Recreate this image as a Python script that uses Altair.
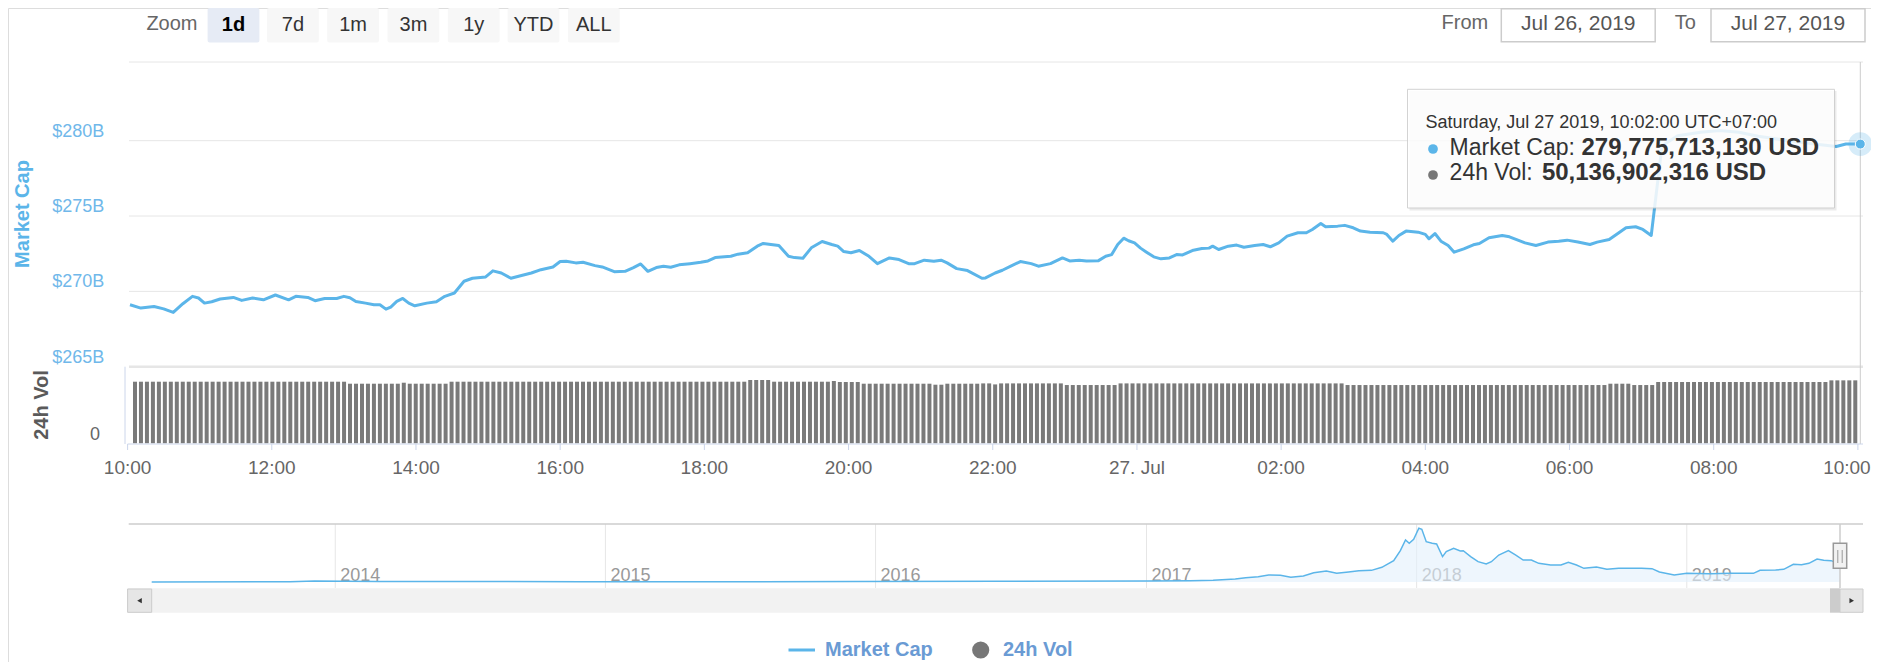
import altair as alt
import pandas as pd

# ------------------------------------------------------------------ data
# Market cap line (minutes after 2019-07-26 10:00, value in billions USD)
MCAP_MIN = [
    2, 11, 22, 30, 38, 46, 54, 59, 64, 70, 77, 88, 95, 104, 113, 123, 134, 140, 150, 156,
    164, 174, 180, 185, 190, 198, 205, 210, 215, 219, 224, 229, 234, 239, 249, 257, 264, 272, 280, 287,
    298, 304, 311, 319, 327, 336, 344, 354, 360, 365, 373, 379, 389, 395, 405, 414, 421, 427, 433, 440,
    446, 452, 459, 468,
    477, 483, 489, 502, 508, 516, 524, 529, 537, 542, 550, 555, 562, 569, 578, 586, 591, 596, 602, 609,
    617, 624, 634, 642, 650, 655, 663, 671, 677, 682, 690, 699, 711, 714, 722, 728, 735, 743, 752, 758,
    768, 778, 784, 792, 798, 808, 814, 819, 824, 829, 833, 838, 843, 848, 854, 860, 867, 873, 878, 887,
    894, 900, 903, 908, 916, 923, 929, 938, 945, 951, 958,
    965, 974, 981, 986, 993, 997, 1007, 1013, 1020, 1026, 1034, 1045, 1048, 1053, 1058, 1064, 1074, 1080,
    1083, 1088, 1093, 1099, 1104, 1112, 1120, 1125, 1133, 1144, 1150, 1163, 1172, 1182, 1191, 1198, 1207,
    1217, 1223, 1233, 1239, 1247, 1255, 1261, 1268, 1277, 1290, 1309, 1325, 1341, 1357, 1373, 1389, 1404,
    1422, 1430, 1442,
]
MCAP_B = [
    269.11, 268.89, 269.00, 268.84, 268.60, 269.18, 269.67, 269.56, 269.22, 269.31, 269.49, 269.60, 269.40,
    269.56, 269.44, 269.76, 269.44, 269.67, 269.60, 269.38, 269.53, 269.53, 269.67, 269.58, 269.33, 269.22,
    269.11, 269.11, 268.82, 268.96, 269.33, 269.53, 269.22, 269.04, 269.22, 269.31, 269.67, 269.89, 270.67,
    270.87, 270.96, 271.36, 271.22, 270.87, 271.04, 271.22, 271.44, 271.62, 271.98, 272.00, 271.89, 271.93,
    271.71, 271.62, 271.31, 271.33, 271.58, 271.82, 271.33, 271.58, 271.67, 271.60, 271.76, 271.84,
    271.93, 272.02, 272.24, 272.33, 272.47, 272.56, 273.00, 273.18, 273.09, 273.04, 272.33, 272.24, 272.20,
    272.89, 273.31, 273.11, 273.00, 272.64, 272.56, 272.71, 272.33, 271.84, 272.22, 272.11, 271.84, 271.84,
    272.07, 272.00, 272.07, 271.89, 271.51, 271.38, 270.87, 270.89, 271.22, 271.40, 271.67, 271.98, 271.84,
    271.67, 271.84, 272.22, 272.02, 272.07, 272.02, 272.04, 272.33, 272.44, 273.11, 273.53, 273.36, 273.22,
    272.87, 272.60, 272.29, 272.16, 272.22, 272.44, 272.42, 272.73, 272.84, 272.87, 273.00, 272.78, 273.00,
    273.07, 272.93, 273.04, 273.11, 272.96, 273.22,
    273.67, 273.89, 273.89, 274.11, 274.51, 274.29, 274.33, 274.38, 274.22, 274.00, 273.93, 273.89, 273.78,
    273.33, 273.71, 274.00, 273.93, 273.78, 273.49, 273.84, 273.33, 273.04, 272.60, 272.82, 273.09, 273.18,
    273.56, 273.71, 273.62, 273.22, 273.04, 273.27, 273.33, 273.40, 273.27, 273.11, 273.27, 273.44, 273.78,
    274.22, 274.29, 274.11, 273.71, 279.67, 280.33, 280.56, 280.67, 280.56, 280.29, 280.11, 279.93, 279.78,
    279.62, 279.78, 279.776,
]

# 24h volume bars, one per 5 minutes from 2019-07-26 10:02 (billions USD)
VOL_B = [
    49.05, 49.05, 49.05, 49.05, 49.05, 49.05, 49.05, 49.05, 49.05, 49.05, 49.05, 49.05,
    49.05, 49.05, 49.05, 49.05, 49.05, 49.05, 49.05, 49.05, 49.05, 49.05, 49.05, 49.05,
    49.05, 49.05, 49.05, 49.05, 49.05, 49.05, 49.05, 49.05, 49.05, 49.05, 49.05, 49.05,
    47.46, 47.46, 47.46, 47.46, 47.46, 47.46, 47.46, 47.46, 47.46, 48.25, 47.46, 47.46,
    47.46, 47.46, 47.46, 47.46, 47.46, 49.05, 49.05, 49.05, 49.05, 49.05, 49.05, 49.05,
    49.05, 49.05, 49.05, 49.05, 49.05, 49.05, 49.05, 49.05, 49.05, 49.05, 49.05, 49.05,
    49.05, 49.05, 49.05, 49.05, 49.05, 49.05, 49.05, 49.05, 49.05, 49.05, 49.05, 49.05,
    49.05, 49.05, 49.05, 49.05, 49.05, 49.05, 49.05, 49.05, 49.05, 49.05, 49.05, 49.05,
    49.05, 49.05, 49.05, 49.05, 49.05, 49.05, 49.05, 50.40, 50.40, 50.40, 50.40, 49.05,
    49.05, 49.05, 49.05, 49.05, 49.05, 49.05, 49.05, 49.05, 49.05, 49.60, 48.80, 48.80,
    48.80, 48.80, 47.46, 47.46, 47.46, 47.46, 47.46, 47.46, 47.46, 47.46, 47.46, 47.46,
    47.46, 47.46, 46.66, 46.66, 47.46, 47.46, 47.46, 47.46, 47.46, 47.46, 47.70, 47.70,
    46.90, 47.70, 47.70, 47.70, 47.70, 47.70, 47.70, 47.70, 47.70, 47.70, 47.70, 47.70,
    46.40, 46.40, 46.40, 46.40, 46.40, 46.40, 46.40, 46.40, 46.40, 47.70, 47.70, 47.70,
    47.70, 47.70, 47.70, 47.70, 47.70, 47.70, 47.70, 47.70, 47.70, 47.70, 47.70, 47.70,
    47.70, 47.70, 47.70, 47.70, 47.70, 47.70, 47.70, 47.70, 47.70, 47.70, 47.70, 47.70,
    47.70, 47.70, 47.70, 47.70, 47.70, 47.70, 47.70, 47.70, 47.70, 47.70, 47.70, 46.40,
    46.40, 46.40, 46.40, 46.40, 46.40, 46.40, 46.40, 46.40, 46.40, 46.40, 46.40, 46.40,
    46.40, 46.40, 46.40, 46.40, 46.40, 46.40, 46.40, 46.40, 46.40, 46.40, 46.40, 46.40,
    46.40, 46.40, 46.40, 46.40, 46.40, 46.40, 46.40, 46.40, 46.40, 46.40, 46.40, 46.40,
    46.40, 46.40, 46.40, 46.40, 46.40, 46.40, 46.40, 47.46, 47.46, 47.46, 47.46, 46.40,
    46.40, 46.40, 46.40, 48.80, 48.80, 48.80, 48.80, 48.80, 48.80, 48.80, 48.80, 48.80,
    48.80, 48.80, 48.80, 48.80, 48.80, 48.80, 48.80, 48.80, 48.80, 48.80, 48.80, 48.80,
    48.80, 48.80, 48.80, 48.80, 48.80, 48.80, 48.80, 48.80, 50.13, 50.13, 50.13, 50.13,
    50.137,
]

X_TICK_LABELS = ["10:00", "12:00", "14:00", "16:00", "18:00", "20:00", "22:00",
                 "27. Jul", "02:00", "04:00", "06:00", "08:00", "10:00"]
Y_TICKS = [265, 270, 275, 280]
Y_TICK_LABELS = ["$265B", "$270B", "$275B", "$280B"]
VOL_TICKS = [0]
VOL_TICK_LABELS = ["0"]

# Navigator (whole history), value in billions USD
NAV_DATES = [
    "2013-04-28", "2013-11-01", "2013-12-04", "2014-01-15", "2014-03-01", "2014-06-01", "2014-12-01",
    "2015-06-01", "2015-12-01", "2016-06-15", "2017-01-01", "2017-03-01", "2017-04-01", "2017-05-01",
    "2017-05-15", "2017-06-01", "2017-06-15", "2017-07-01", "2017-07-15", "2017-08-01", "2017-08-15",
    "2017-09-01", "2017-09-15", "2017-10-01", "2017-10-15", "2017-11-01", "2017-11-15", "2017-12-01",
    "2017-12-10", "2017-12-17", "2017-12-22", "2017-12-28", "2018-01-04", "2018-01-08", "2018-01-14",
    "2018-01-22", "2018-01-28", "2018-02-05", "2018-02-10", "2018-02-20", "2018-03-01", "2018-03-05",
    "2018-03-15", "2018-03-25", "2018-04-05", "2018-04-12", "2018-04-22", "2018-05-05", "2018-05-15",
    "2018-05-25", "2018-06-05", "2018-06-15", "2018-07-01", "2018-07-15", "2018-07-25", "2018-08-05",
    "2018-08-15", "2018-09-01", "2018-09-15", "2018-10-01", "2018-11-01", "2018-11-15", "2018-11-25",
    "2018-12-15", "2019-01-01", "2019-02-01", "2019-03-01", "2019-04-01", "2019-04-10", "2019-05-01",
    "2019-05-12", "2019-05-25", "2019-06-05", "2019-06-15", "2019-06-26", "2019-07-05", "2019-07-15",
    "2019-07-27",
]
NAV_B = [
    1.5, 3, 14, 11, 8, 8, 5,
    3.5, 6, 10, 17, 20.6, 25.7, 46,
    67, 82, 108, 103, 72, 93, 144,
    170, 134, 154, 175, 180, 227, 330,
    484, 649, 598, 660, 830, 814, 623,
    598, 587, 392, 469, 520, 479, 484,
    392, 314, 278, 314, 417, 484, 417,
    340, 340, 288, 263, 263, 304, 263,
    211, 232, 196, 211, 211, 206, 155,
    108, 134, 129, 134, 134, 180, 185,
    196, 273, 268, 289, 356, 335, 330,
    280,
]
NAV_YEARS = ["2014", "2015", "2016", "2017", "2018", "2019"]

ZOOM_BUTTONS = ["1d", "7d", "1m", "3m", "1y", "YTD", "ALL"]
FROM_DATE = "Jul 26, 2019"
TO_DATE = "Jul 27, 2019"
TOOLTIP_HEADER = "Saturday, Jul 27 2019, 10:02:00 UTC+07:00"
TOOLTIP_MCAP = "279,775,713,130 USD"
TOOLTIP_VOL = "50,136,902,316 USD"

# ------------------------------------------------------------------ style / layout
FONT = "Liberation Sans"
BLUE = "#5bb5e9"
LABEL_BLUE = "#70b8ea"
LEGEND_BLUE = "#6a9bd4"
GREY_BAR = "#7a7a7a"
W, H = 1863, 654

T0 = pd.Timestamp("2019-07-26 10:00")


def iso(ts):
    return pd.Timestamp(ts).strftime("%Y-%m-%dT%H:%M:%S")


mcap_df = pd.DataFrame({"t": [iso(T0 + pd.Timedelta(minutes=m)) for m in MCAP_MIN], "v": MCAP_B})
vol_times = pd.date_range("2019-07-26 10:02", periods=len(VOL_B), freq="5min")
vol_df = pd.DataFrame({"t": [iso(t) for t in vol_times], "v": VOL_B})
last_df = pd.DataFrame({"t": [mcap_df["t"].iloc[-1]], "v": [MCAP_B[-1]]})
xtick_df = pd.DataFrame({"t": [iso(T0 + pd.Timedelta(hours=2 * i)) for i in range(len(X_TICK_LABELS))],
                         "label": X_TICK_LABELS})
xtick_inner = xtick_df.iloc[:-1]
xtick_last = xtick_df.iloc[-1:]
ytick_df = pd.DataFrame({"v": Y_TICKS, "label": Y_TICK_LABELS})
voltick_df = pd.DataFrame({"v": VOL_TICKS, "label": VOL_TICK_LABELS})
nav_df = pd.DataFrame({"t": [d + "T00:00:00" for d in NAV_DATES], "v": NAV_B})
year_df = pd.DataFrame({"t": [y + "-01-01T00:00:00" for y in NAV_YEARS], "label": NAV_YEARS})

X_MAIN = alt.Scale(domain=[alt.DateTime(year=2019, month=7, date=26, hours=10, minutes=0),
                           alt.DateTime(year=2019, month=7, date=27, hours=10, minutes=0)],
                   range=[119.6, 1849.9], nice=False)
Y_MAIN = alt.Scale(domain=[265, 280], range=[358.7, 132.7], nice=False, zero=False)
Y_VOL = alt.Scale(domain=[0, 61], range=[435.3, 358.7], nice=False, zero=False)
X_NAV = alt.Scale(domain=[alt.DateTime(year=2013, month=4, date=28),
                          alt.DateTime(year=2019, month=7, date=27)],
                  range=[143.7, 1832], nice=False)
Y_NAV = alt.Scale(domain=[0, 830], range=[574, 520.3], nice=False, zero=False)


def one():
    return alt.Data(values=[{"k": 0}])


def rect(x, x2, y, y2, **kw):
    return alt.Chart(one()).mark_rect(**kw).encode(
        x=alt.value(x), x2=alt.value(x2), y=alt.value(y), y2=alt.value(y2))


def rule(x, x2, y, y2, **kw):
    return alt.Chart(one()).mark_rule(**kw).encode(
        x=alt.value(x), x2=alt.value(x2), y=alt.value(y), y2=alt.value(y2))


def text(s, x, y, **kw):
    kw.setdefault("font", FONT)
    kw.setdefault("baseline", "middle")
    return alt.Chart(one()).mark_text(**kw).encode(
        x=alt.value(x), y=alt.value(y), text=alt.value(s))


def dot(x, y, size, color, **kw):
    return alt.Chart(one()).mark_circle(size=size, color=color, opacity=1, **kw).encode(
        x=alt.value(x), y=alt.value(y))


layers = []

# ---------------- top bar: range selector & date inputs
layers.append(text("Zoom", 138.4, 16, fontSize=20, color="#666666", align="left"))
BUTTON_LEFT = [199.6, 259.0, 319.2, 379.5, 439.8, 499.6, 559.9]
for lab, left in zip(ZOOM_BUTTONS, BUTTON_LEFT):
    sel = lab == "1d"
    layers.append(rect(left, left + 51.8, 0, 34.5, color="#e6ebf5" if sel else "#f7f7f7", cornerRadius=2))
    layers.append(text(lab, left + 25.9, 16.5, fontSize=20, align="center",
                       color="#000000" if sel else "#333333",
                       fontWeight="bold" if sel else "normal"))
layers.append(text("From", 1433.6, 15.3, fontSize=20, color="#666666", align="left"))
layers.append(rect(1493.3, 1647.2, 0.8, 33.7, color="#ffffff", stroke="#cccccc", strokeWidth=1.5))
layers.append(text(FROM_DATE, 1570.3, 16, fontSize=21, color="#555555", align="center"))
layers.append(text("To", 1666.8, 15.3, fontSize=20, color="#666666", align="left"))
layers.append(rect(1703, 1857, 0.8, 33.7, color="#ffffff", stroke="#cccccc", strokeWidth=1.5))
layers.append(text(TO_DATE, 1780, 16, fontSize=21, color="#555555", align="center"))

# ---------------- main pane
layers.append(rule(121, 1855, 54, 54, color="#e6e6e6", strokeWidth=1))
layers.append(
    alt.Chart(ytick_df).mark_rule(color="#e6e6e6").encode(
        y=alt.Y("v:Q", scale=Y_MAIN, axis=None),
        x=alt.value(121), x2=alt.value(1855),
        strokeWidth=alt.condition(alt.datum.v == 265, alt.value(2.5), alt.value(1)),
    )
)
layers.append(
    alt.Chart(ytick_df).mark_text(font=FONT, fontSize=18, color=LABEL_BLUE, align="right",
                                  baseline="middle", dy=-9).encode(
        y=alt.Y("v:Q", scale=Y_MAIN, axis=None), x=alt.value(96.3), text="label:N")
)
layers.append(text("Market Cap", 15.3, 206, fontSize=20, fontWeight="bold", color=BLUE,
                   angle=270, align="center"))
layers.append(text("24h Vol", 33.7, 397, fontSize=20, fontWeight="bold", color="#5a5a5a",
                   angle=270, align="center"))
layers.append(
    alt.Chart(voltick_df).mark_text(font=FONT, fontSize=18, color="#666666", align="right",
                                    baseline="middle", dy=-8).encode(
        y=alt.Y("v:Q", scale=Y_VOL, axis=None), x=alt.value(92), text="label:N")
)
# crosshair at hovered point
layers.append(
    alt.Chart(last_df).mark_rule(color="#cccccc", strokeWidth=1).encode(
        x=alt.X("t:T", scale=X_MAIN, axis=None), y=alt.value(54), y2=alt.value(436))
)
# volume bars
layers.append(
    alt.Chart(vol_df).mark_bar(color=GREY_BAR, width=4).encode(
        x=alt.X("t:T", scale=X_MAIN, axis=None),
        y=alt.Y("v:Q", scale=Y_VOL, axis=None))
)
# x axis
layers.append(rule(117, 117, 358.7, 436, color="#ccd6eb", strokeWidth=1))
layers.append(rule(119.6, 1855, 436, 436, color="#ccd6eb", strokeWidth=1))
layers.append(
    alt.Chart(xtick_df).mark_rule(color="#ccd6eb", strokeWidth=1).encode(
        x=alt.X("t:T", scale=X_MAIN, axis=None), y=alt.value(436), y2=alt.value(442))
)
layers.append(
    alt.Chart(xtick_inner).mark_text(font=FONT, fontSize=19, color="#666666", baseline="middle").encode(
        x=alt.X("t:T", scale=X_MAIN, axis=None), y=alt.value(460.3), text="label:N")
)
layers.append(
    alt.Chart(xtick_last).mark_text(font=FONT, fontSize=19, color="#666666", baseline="middle",
                                    dx=-11).encode(
        x=alt.X("t:T", scale=X_MAIN, axis=None), y=alt.value(460.3), text="label:N")
)
# market cap line
layers.append(
    alt.Chart(mcap_df).mark_line(color=BLUE, strokeWidth=3, strokeJoin="round").encode(
        x=alt.X("t:T", scale=X_MAIN, axis=None),
        y=alt.Y("v:Q", scale=Y_MAIN, axis=None))
)

# ---------------- tooltip
layers.append(rect(1401.5, 1828.5, 83, 202.5, color="#000000", opacity=0.08))
layers.append(rect(1399.5, 1826.5, 81.3, 200, color="#ffffff", opacity=0.86,
                   stroke="#cccccc", strokeWidth=1, strokeOpacity=1))
layers.append(text(TOOLTIP_HEADER, 1417.6, 115.3, fontSize=18, color="#333333", align="left"))
layers.append(dot(1425, 141, 95, BLUE))
layers.append(text("Market Cap:", 1441.6, 139.7, fontSize=23, color="#333333", align="left"))
layers.append(text(TOOLTIP_MCAP, 1573.5, 139.7, fontSize=24, fontWeight="bold", color="#333333",
                   align="left"))
layers.append(dot(1425, 167, 95, "#777777"))
layers.append(text("24h Vol:", 1441.6, 165, fontSize=23, color="#333333", align="left"))
layers.append(text(TOOLTIP_VOL, 1533.9, 165, fontSize=24, fontWeight="bold", color="#333333",
                   align="left"))

# hovered marker with halo
layers.append(
    alt.Chart(last_df).mark_circle(size=560, color=BLUE, opacity=0.25).encode(
        x=alt.X("t:T", scale=X_MAIN, axis=None), y=alt.Y("v:Q", scale=Y_MAIN, axis=None))
)
layers.append(
    alt.Chart(last_df).mark_circle(size=100, color=BLUE, opacity=1, stroke="#ffffff",
                                   strokeWidth=1).encode(
        x=alt.X("t:T", scale=X_MAIN, axis=None), y=alt.Y("v:Q", scale=Y_MAIN, axis=None))
)

# ---------------- navigator
layers.append(
    alt.Chart(year_df).mark_rule(color="#e6e6e6", strokeWidth=1).encode(
        x=alt.X("t:T", scale=X_NAV, axis=None), y=alt.value(516), y2=alt.value(580))
)
layers.append(
    alt.Chart(year_df).mark_text(font=FONT, fontSize=18, color="#999999", align="left",
                                 baseline="middle", dx=5).encode(
        x=alt.X("t:T", scale=X_NAV, axis=None), y=alt.value(567.5), text="label:N")
)
layers.append(
    alt.Chart(nav_df).mark_area(color="#e3f0fb", opacity=0.6).encode(
        x=alt.X("t:T", scale=X_NAV, axis=None),
        y=alt.Y("v:Q", scale=Y_NAV, axis=None), y2=alt.value(580))
)
layers.append(
    alt.Chart(nav_df).mark_line(color=BLUE, strokeWidth=1.5).encode(
        x=alt.X("t:T", scale=X_NAV, axis=None),
        y=alt.Y("v:Q", scale=Y_NAV, axis=None))
)
layers.append(rule(120.7, 1855, 516, 516, color="#cccccc", strokeWidth=1.5))
layers.append(rule(1832, 1832, 516, 580, color="#cccccc", strokeWidth=1.5))
# handle
layers.append(rect(1825.3, 1838.7, 535.3, 560.3, color="#f2f2f2", stroke="#999999", strokeWidth=1.5))
layers.append(rule(1829.8, 1829.8, 542, 555, color="#999999", strokeWidth=1))
layers.append(rule(1834.2, 1834.2, 542, 555, color="#999999", strokeWidth=1))

# scrollbar
layers.append(rect(119.6, 1822, 580.3, 604.7, color="#f2f2f2"))
layers.append(rect(119.6, 143.7, 581, 604.3, color="#e6e6e6", stroke="#cccccc", strokeWidth=1))
layers.append(alt.Chart(one()).mark_point(shape="triangle-left", filled=True, size=28, color="#333333",
                                          opacity=1).encode(x=alt.value(131.5), y=alt.value(592.7)))
layers.append(rect(1822, 1832, 580.3, 604.7, color="#cccccc"))
layers.append(rect(1832, 1855, 581, 604.3, color="#e6e6e6", stroke="#cccccc", strokeWidth=1))
layers.append(alt.Chart(one()).mark_point(shape="triangle-right", filled=True, size=28, color="#333333",
                                          opacity=1).encode(x=alt.value(1843.7), y=alt.value(592.7)))

# ---------------- legend
layers.append(rule(780.5, 807, 642, 642, color=BLUE, strokeWidth=3))
layers.append(text("Market Cap", 817, 641.5, fontSize=20, fontWeight="bold", color=LEGEND_BLUE,
                   align="left"))
layers.append(dot(972.7, 642, 295, "#777777"))
layers.append(text("24h Vol", 995, 641.5, fontSize=20, fontWeight="bold", color=LEGEND_BLUE,
                   align="left"))

chart = (
    alt.layer(*layers)
    .resolve_scale(x="independent", y="independent")
    .properties(width=W, height=H, padding=0, autosize=alt.AutoSizeParams(type="none"),
                background="#ffffff")
    .configure_view(stroke="transparent", strokeWidth=0)
    .configure(font=FONT)
)

chart.save("out.html", embed_options={"renderer": "svg", "actions": False})
